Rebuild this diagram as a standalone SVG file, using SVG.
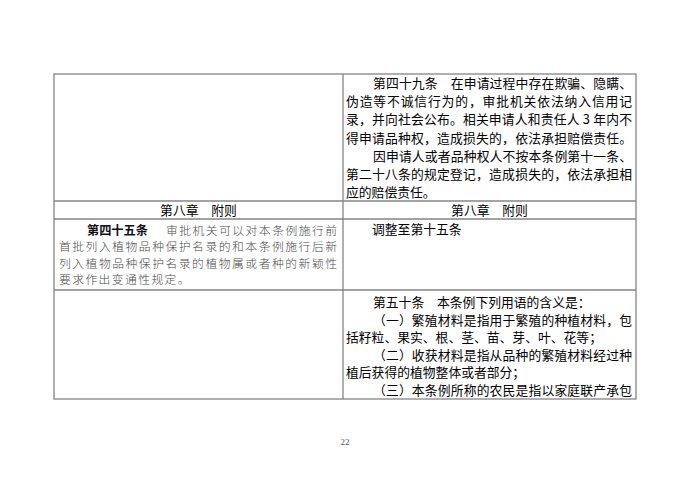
<svg xmlns="http://www.w3.org/2000/svg" width="690" height="487" viewBox="0 0 690 487">
<style>
.bg{fill:#ffffff}
.rule{stroke:#858585;stroke-width:1.3;fill:none}
.r{font-family:"Noto Sans CJK SC","Noto Sans",sans-serif;font-size:12.8px;fill:#000000}
.l{font-family:"Noto Sans CJK SC","Noto Sans",sans-serif;font-size:11.8px;fill:#4a4a4a;font-weight:300}
.lb{font-family:"Noto Sans CJK SC","Noto Sans",sans-serif;font-size:12.2px;fill:#111111;font-weight:700}
.h{font-family:"Noto Sans CJK SC","Noto Sans",sans-serif;font-size:12.8px;fill:#000000;text-anchor:middle}
.pg{font-family:"Liberation Serif",serif;font-size:9px;fill:#555555;text-anchor:middle}
</style>
<rect class="bg" x="0" y="0" width="690" height="487"/>
<g id="table-rules">
  <rect class="rule" x="54" y="74" width="582" height="325"/>
  <line class="rule" x1="343" y1="74" x2="343" y2="399"/>
  <line class="rule" x1="54" y1="201" x2="636" y2="201"/>
  <line class="rule" x1="54" y1="219" x2="636" y2="219"/>
  <line class="rule" x1="54" y1="290" x2="636" y2="290"/>
</g>
<g id="cell-art49">
  <text class="r" x="373" y="88" textLength="259" lengthAdjust="spacing">第四十九条　在申请过程中存在欺骗、隐瞒、</text>
  <text class="r" x="346" y="106.2" textLength="286" lengthAdjust="spacing">伪造等不诚信行为的，审批机关依法纳入信用记</text>
  <text class="r" x="346" y="124.4" textLength="286" lengthAdjust="spacing">录，并向社会公布。相关申请人和责任人 3 年内不</text>
  <text class="r" x="346" y="142.6" textLength="286" lengthAdjust="spacing">得申请品种权，造成损失的，依法承担赔偿责任。</text>
  <text class="r" x="373" y="160.8" textLength="259" lengthAdjust="spacing">因申请人或者品种权人不按本条例第十一条、</text>
  <text class="r" x="346" y="179" textLength="286" lengthAdjust="spacing">第二十八条的规定登记，造成损失的，依法承担相</text>
  <text class="r" x="346" y="197.2">应的赔偿责任。</text>
</g>
<g id="cell-chapter-left">
  <text class="h" x="198.5" y="215">第八章　附则</text>
</g>
<g id="cell-chapter-right">
  <text class="h" x="489.5" y="215">第八章　附则</text>
</g>
<g id="cell-art45">
  <text class="lb" x="87" y="235">第四十五条</text>
  <text class="l" x="166" y="235" textLength="171" lengthAdjust="spacing">审批机关可以对本条例施行前</text>
  <text class="l" x="59" y="251.3" textLength="278" lengthAdjust="spacing">首批列入植物品种保护名录的和本条例施行后新</text>
  <text class="l" x="59" y="267.6" textLength="278" lengthAdjust="spacing">列入植物品种保护名录的植物属或者种的新颖性</text>
  <text class="l" x="59" y="283.9" letter-spacing="1.4">要求作出变通性规定。</text>
</g>
<g id="cell-adjust">
  <text class="r" x="372" y="234">调整至第十五条</text>
</g>
<g id="cell-art50">
  <text class="r" x="373" y="307">第五十条　本条例下列用语的含义是：</text>
  <text class="r" x="373" y="324.6" textLength="259" lengthAdjust="spacing">（一）繁殖材料是指用于繁殖的种植材料，包</text>
  <text class="r" x="346" y="342.2">括籽粒、果实、根、茎、苗、芽、叶、花等；</text>
  <text class="r" x="373" y="359.8" textLength="259" lengthAdjust="spacing">（二）收获材料是指从品种的繁殖材料经过种</text>
  <text class="r" x="346" y="377.4">植后获得的植物整体或者部分；</text>
  <text class="r" x="373" y="395" textLength="259" lengthAdjust="spacing">（三）本条例所称的农民是指以家庭联产承包</text>
</g>
<text class="pg" x="345" y="445">22</text>
</svg>
